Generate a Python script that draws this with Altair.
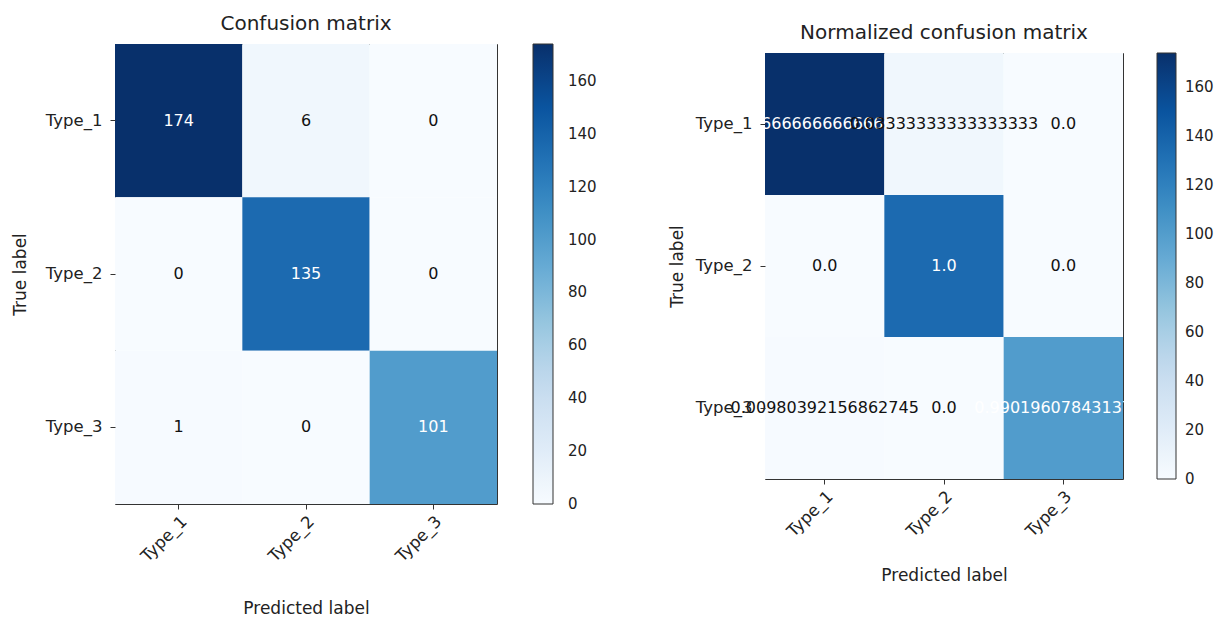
import altair as alt
import pandas as pd

# ---- data ----
classes = ["Type_1", "Type_2", "Type_3"]
counts = [[174, 6, 0],
          [0, 135, 0],
          [1, 0, 101]]
normalized = [[0.9666666666666667, 0.03333333333333333, 0.0],
              [0.0, 1.0, 0.0],
              [0.00980392156862745, 0.0, 0.9901960784313726]]
colorbar_ticks = [0, 20, 40, 60, 80, 100, 120, 140, 160]

# matplotlib "Blues" colormap stops
BLUES = ["#f7fbff", "#deebf7", "#c6dbef", "#9ecae1", "#6baed6",
         "#4292c6", "#2171b5", "#08519c", "#08306b"]
cmax = max(max(r) for r in counts)
cmin = -0.01  # tiny shift keeps the "0" colorbar label centred on the bar end
stops = [cmin + (cmax - cmin) * i / (len(BLUES) - 1) for i in range(len(BLUES))]

rows = []
for i, t in enumerate(classes):
    for j, p in enumerate(classes):
        rows.append({"true": t, "pred": p,
                     "count": counts[i][j],
                     "norm": normalized[i][j],
                     "count_txt": str(counts[i][j]),
                     "norm_txt": repr(normalized[i][j])})
df = pd.DataFrame(rows)

FONT = "DejaVu Sans"
INK = "#222222"
FRAME = "#333333"


def panel(txt_field, thr_field, thr, w, h, leg_offset, leg_thick, leg_lab_off,
          ytitle_pad, xtitle_pad, title):
    base = alt.Chart(df)
    x = alt.X("pred:N", sort=classes, scale=alt.Scale(paddingInner=0, paddingOuter=0),
              axis=alt.Axis(title="Predicted label", labelAngle=-45, bandPosition=0.5,
                            labelPadding=4, titlePadding=xtitle_pad))
    y = alt.Y("true:N", sort=classes, scale=alt.Scale(paddingInner=0, paddingOuter=0),
              axis=alt.Axis(title="True label", labelAngle=0, bandPosition=0.5,
                            labelPadding=8, titlePadding=ytitle_pad))
    rect = base.mark_rect().encode(
        x=x, y=y,
        color=alt.Color("count:Q",
                        scale=alt.Scale(domain=stops, range=BLUES),
                        legend=alt.Legend(title=None, values=colorbar_ticks,
                                          orient="right", direction="vertical",
                                          gradientLength=h, gradientThickness=leg_thick,
                                          gradientStrokeColor=FRAME,
                                          gradientStrokeWidth=1,
                                          labelFont=FONT, labelFontSize=15,
                                          labelColor=INK, labelOffset=leg_lab_off,
                                          offset=leg_offset, padding=0)),
    )
    text = base.mark_text(font=FONT, fontSize=16).encode(
        x=x, y=y,
        text=alt.Text(f"{txt_field}:N"),
        color=alt.when(f"datum.{thr_field} > {thr}").then(alt.value("white")).otherwise(alt.value("#111111")),
    )
    return alt.layer(rect, text).properties(
        width=w, height=h,
        view=alt.ViewBackground(stroke=FRAME, strokeWidth=1),
        title=alt.Title(title, font=FONT, fontSize=20, fontWeight="normal",
                        color=INK, frame="group", anchor="middle", offset=10),
    )


left = panel("count_txt", "count", cmax / 2, 382, 460, 36, 20, 15, 16, 36,
             "Confusion matrix")
right = panel("norm_txt", "norm", 0.5, 358, 426, 34, 19, 9, 9, 28,
              "Normalized confusion matrix")

# invisible 1px strip that lowers the right-hand panel a little, as in the reference
spacer = alt.Chart(pd.DataFrame({"s": [0]})).mark_point(opacity=0).encode(
    x=alt.value(0), y=alt.value(0)
).properties(width=358, height=1, view=alt.ViewBackground(stroke="transparent"))

right_col = alt.vconcat(spacer, right, spacing=-26).resolve_scale(color="independent")

chart = alt.hconcat(left, right_col, spacing=69).resolve_scale(color="independent").properties(
    padding={"left": 2, "top": 5, "right": 0, "bottom": 0}
).configure_view(
    stroke="transparent"
).configure_axis(
    domain=False, grid=False,
    labelFont=FONT, labelFontSize=16.5, labelColor=INK,
    titleFont=FONT, titleFontSize=17, titleFontWeight="normal", titleColor=INK,
    tickColor=FRAME, tickSize=5, tickWidth=1,
).configure_legend(
    gradientVerticalMaxLength=600, gradientVerticalMinLength=50,
)

chart.save("out.html", embed_options={"renderer": "svg", "actions": False})
